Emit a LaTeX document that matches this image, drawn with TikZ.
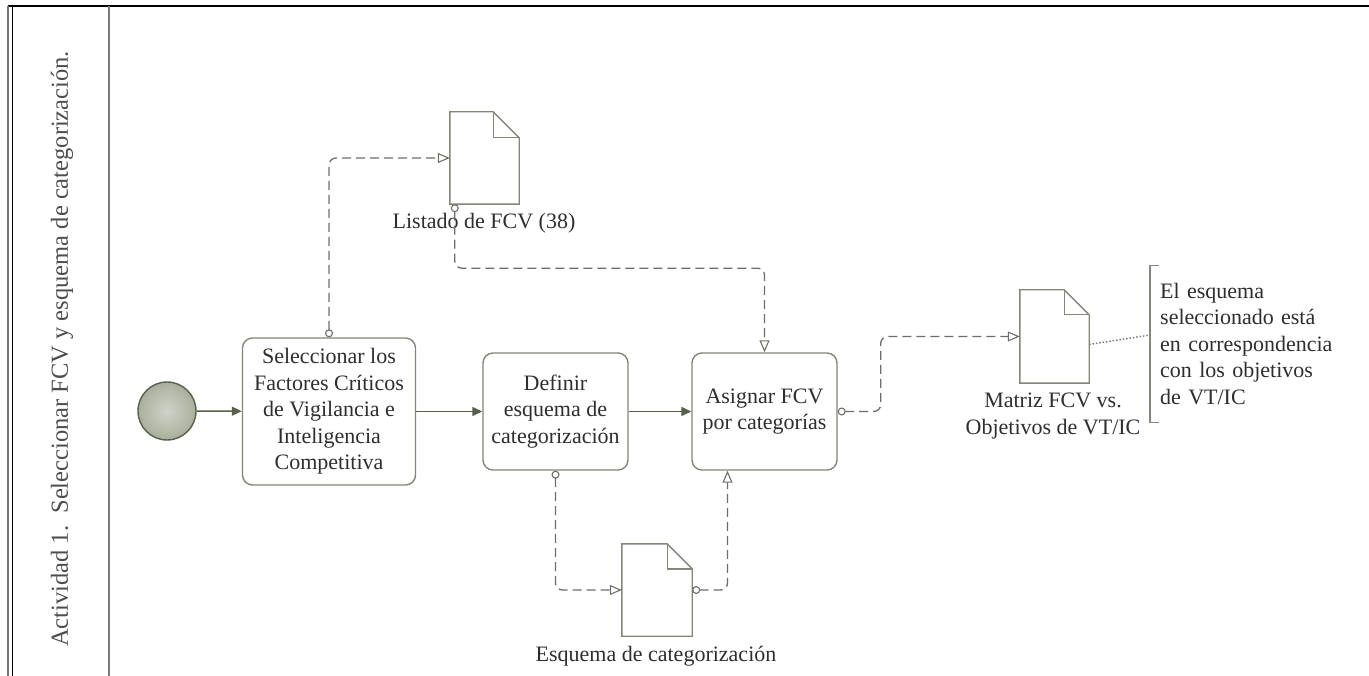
\documentclass[tikz,border=0pt]{standalone}
\usepackage{fontspec}
\setmainfont{Liberation Serif}
\usetikzlibrary{arrows.meta,calc}
\definecolor{olive}{HTML}{56614A}
\definecolor{boxgray}{HTML}{85857C}
\definecolor{dashgray}{HTML}{6E6E68}
\definecolor{txt}{HTML}{2E2E2E}
\definecolor{startfill}{HTML}{A9AF9C}
\tikzset{
  taskbox/.style={draw=boxgray, line width=1.4pt, rounded corners=10pt, fill=white, align=center,
     font=\fontsize{22}{26.5}\selectfont, text=txt, inner sep=0pt},
  docnode/.style={draw=none, inner sep=0pt},
  docline/.style={draw=boxgray, line width=1.4pt, fill=white},
  flow/.style={draw=olive, line width=1.4pt, -{Triangle[length=10pt,width=9pt]}},
  assoc/.style={draw=dashgray, line width=1.3pt, dash pattern=on 9pt off 5pt, rounded corners=7pt,
     {Circle[open,length=8pt,width=8pt,line width=1.1pt]}-{Triangle[open,length=12pt,width=10pt,line width=1.1pt]}},
  lbl/.style={font=\fontsize{22}{26.5}\selectfont, text=txt, align=center, inner sep=0pt},
}
\begin{document}
\begin{tikzpicture}[x=1pt,y=-1pt]
\useasboundingbox (0,0) rectangle (1369,676);
\fill[white] (0,0) rectangle (1369,676);
% frame
\draw[black, line width=2.4pt] (8,6) -- (1369,6);
\draw[gray!70!olive, line width=2pt] (8,6) -- (8,676);
\draw[black, line width=1.8pt] (12.5,6) -- (12.5,676);
\draw[gray!80!olive, line width=1.8pt] (109,6) -- (109,676);
\node[rotate=90, font=\fontsize{24.5}{28}\selectfont, text=txt!85] (lane) at (62,349)
  {Actividad 1.\ \ Seleccionar FCV y esquema de categorización.};

% start event
\node[circle, draw=olive, line width=1.4pt, minimum size=58pt, inner sep=0pt,
      inner color=startfill!55!white, outer color=startfill] (start) at (167,411) {};

% tasks
\node[taskbox, minimum width=173pt, minimum height=147pt] (b1) at (329,411.5)
  {Seleccionar los\\Factores Críticos\\de Vigilancia e\\Inteligencia\\Competitiva};
\node[taskbox, minimum width=145pt, minimum height=117pt] (b2) at (555.5,411.5)
  {Definir\\esquema de\\categorización};
\node[taskbox, minimum width=145pt, minimum height=117pt] (b3) at (764.5,411.5)
  {Asignar FCV\\por categorías};

% documents
\node[docnode, minimum width=69pt, minimum height=92pt] (d1) at (484.5,158) {};
\node[docnode, minimum width=70pt, minimum height=92pt] (d2) at (657,590) {};
\node[docnode, minimum width=69pt, minimum height=93pt] (d3) at (1054.5,336.5) {};
\foreach \d/\f in {d1/26,d2/25,d3/25}{
  \draw[docline] (\d.north west) -- ([xshift=-\f pt]\d.north east) -- ([yshift=-\f pt]\d.north east)
     -- (\d.south east) -- (\d.south west) -- cycle;
  \draw[docline, fill=none] ([xshift=-\f pt]\d.north east) -- ([xshift=-\f pt, yshift=-\f pt]\d.north east)
     -- ([yshift=-\f pt]\d.north east);
}
\node[lbl, anchor=base] (l1) at (484,229) {Listado de FCV (38)};
\node[lbl, anchor=base] (l2) at (656,661) {Esquema de categorización};
\node[lbl, anchor=base] (l3a) at (1053,408) {Matriz FCV vs.};
\node[lbl, anchor=base] (l3b) at (1053,435) {Objetivos de VT/IC};

% annotation
\node[lbl, align=left, anchor=west, minimum height=156pt, text width=180pt, inner xsep=10pt] (ann) at (1150,344)
  {El esquema\\seleccionado está\\en correspondencia\\con los objetivos\\de VT/IC};
\draw[boxgray, line width=1.4pt] ([xshift=9pt]ann.north west) -- (ann.north west) -- (ann.south west) -- ++(9,0);
\draw[dashgray, line width=1.4pt, dotted] ([yshift=-8pt]d3.east) -- ([yshift=9pt]ann.west);

% sequence flows
\draw[flow] (start) -- (b1);
\draw[flow] (b1) -- (b2);
\draw[flow] (b2) -- (b3);

% associations
\draw[assoc] (b1.north) |- (d1.west);
\draw[assoc] ([xshift=5pt]d1.south west) -- ++(0,64) -| (b3.north);
\draw[assoc] (b2.south) |- (d2.west);
\draw[assoc] (d2.east) -| ([xshift=-37pt]b3.south);
\draw[assoc] (b3.east) -- ++(43,0) |- (d3.west);
\end{tikzpicture}
\end{document}
